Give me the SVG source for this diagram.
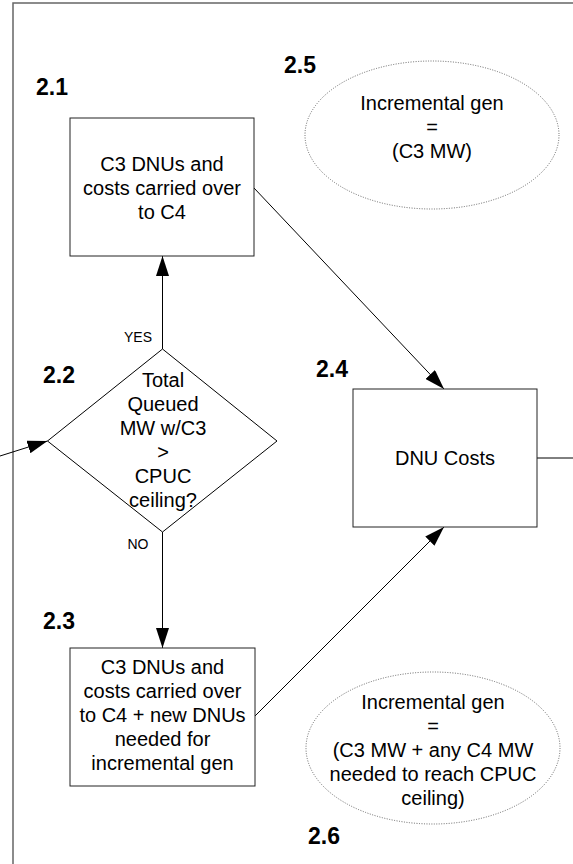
<svg xmlns="http://www.w3.org/2000/svg" width="573" height="864" viewBox="0 0 573 864">
<style>
.box{fill:#fff;stroke:#222;stroke-width:1}
.ell{fill:#fff;stroke:#666;stroke-width:1;stroke-dasharray:1 1.5}
.t{font-family:"Liberation Sans",Arial,sans-serif;font-size:20px;fill:#000;text-anchor:middle}
.s{font-family:"Liberation Sans",Arial,sans-serif;font-size:14px;fill:#000;text-anchor:middle}
.n{font-family:"Liberation Sans",Arial,sans-serif;font-size:23px;font-weight:bold;fill:#000}
.c{fill:none;stroke:#000;stroke-width:1}
</style>
<defs>
<marker id="ah" viewBox="0 0 20 13" refX="20" refY="6.5" markerWidth="20" markerHeight="13" markerUnits="userSpaceOnUse" orient="auto">
<path d="M0,0 L20,6.5 L0,13 Z" fill="#000"/>
</marker>
</defs>
<rect width="573" height="864" fill="#fff"/>
<path d="M13,864 V3 H573" fill="none" stroke="#666" stroke-width="1.5"/>
<g id="connectors">
<line class="c" x1="162.5" y1="349" x2="162.5" y2="256" marker-end="url(#ah)"/>
<line class="c" x1="162.5" y1="532" x2="162.5" y2="648" marker-end="url(#ah)"/>
<line class="c" x1="0" y1="456" x2="47.5" y2="441" marker-end="url(#ah)"/>
<line class="c" x1="254" y1="188" x2="444" y2="389" marker-end="url(#ah)"/>
<line class="c" x1="255" y1="716" x2="444" y2="527" marker-end="url(#ah)"/>
<line class="c" x1="537" y1="458" x2="573" y2="458"/>
<text class="s" x="138" y="342">YES</text>
<text class="s" x="138" y="549">NO</text>
</g>
<g id="n21">
<rect class="box" x="70" y="118" width="184" height="138"/>
<text class="t" x="162" y="171">C3 DNUs and</text>
<text class="t" x="162" y="195">costs carried over</text>
<text class="t" x="162" y="219">to C4</text>
<text class="n" x="36" y="95">2.1</text>
</g>
<g id="n22">
<polygon points="162.5,349 277,441 162.5,532 47.5,441" fill="#fff" stroke="#000" stroke-width="1"/>
<text class="t" x="163" y="387">Total</text>
<text class="t" x="163" y="411">Queued</text>
<text class="t" x="163" y="435">MW w/C3</text>
<text class="t" x="163" y="459">&gt;</text>
<text class="t" x="163" y="483">CPUC</text>
<text class="t" x="163" y="507">ceiling?</text>
<text class="n" x="43" y="383">2.2</text>
</g>
<g id="n23">
<rect class="box" x="70" y="648" width="185" height="138"/>
<text class="t" x="162.5" y="674">C3 DNUs and</text>
<text class="t" x="162.5" y="698">costs carried over</text>
<text class="t" x="162.5" y="722">to C4 + new DNUs</text>
<text class="t" x="162.5" y="746">needed for</text>
<text class="t" x="162.5" y="770">incremental gen</text>
<text class="n" x="43" y="629">2.3</text>
</g>
<g id="n24">
<rect class="box" x="353" y="389" width="184" height="138"/>
<text class="t" x="445" y="465">DNU Costs</text>
<text class="n" x="316" y="377">2.4</text>
</g>
<g id="n25">
<ellipse class="ell" cx="432" cy="135" rx="127" ry="74"/>
<text class="t" x="432" y="110">Incremental gen</text>
<text class="t" x="432" y="134">=</text>
<text class="t" x="432" y="158">(C3 MW)</text>
<text class="n" x="284" y="73">2.5</text>
</g>
<g id="n26">
<ellipse class="ell" cx="433" cy="748" rx="127" ry="76"/>
<text class="t" x="433" y="709">Incremental gen</text>
<text class="t" x="433" y="733">=</text>
<text class="t" x="433" y="757">(C3 MW + any C4 MW</text>
<text class="t" x="433" y="781">needed to reach CPUC</text>
<text class="t" x="433" y="805">ceiling)</text>
<text class="n" x="308" y="844">2.6</text>
</g>
</svg>
